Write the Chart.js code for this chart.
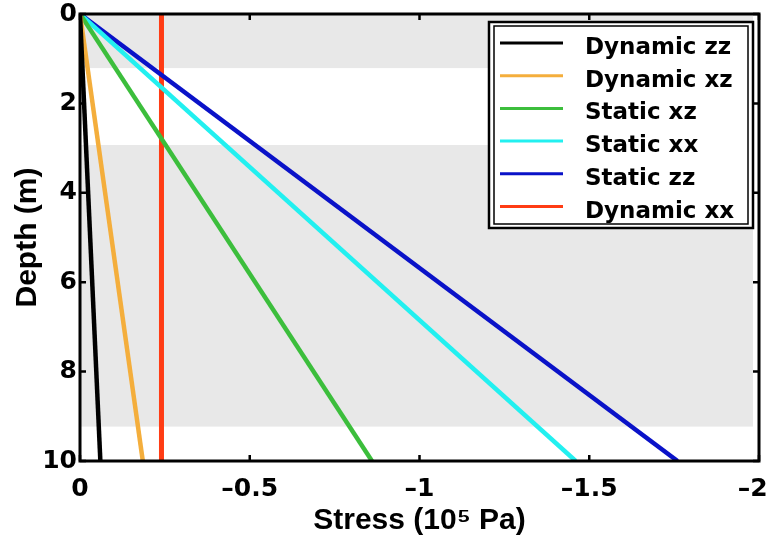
<!DOCTYPE html>
<html>
<head>
<meta charset="utf-8">
<script src="https://cdn.jsdelivr.net/npm/chart.js@4.4.1/dist/chart.umd.min.js"></script>
<style>
  html, body { margin: 0; padding: 0; background: #fff; }
  #wrap { width: 770px; height: 537px; }
</style>
</head>
<body>
<div id="wrap"><canvas id="stressChart" width="770" height="537"></canvas></div>
<script>
// depths (m) where each profile is given
const depth = [0, 10];

// stress (10^5 Pa) at those depths
const dynamicZz = [0, -0.06];
const dynamicXz = [0, -0.185];
const staticXz = [0, -0.86];
const staticXx = [0, -1.46];
const staticZz = [0, -1.76];
const dynamicXx = [-0.24, -0.24];

const seriesNames = ["Dynamic zz", "Dynamic xz", "Static xz", "Static xx", "Static zz", "Dynamic xx"];
const seriesValues = [dynamicZz, dynamicXz, staticXz, staticXx, staticZz, dynamicXx];
const seriesColors = ["#000000", "#f4ae3c", "#3cbe3c", "#22f0f0", "#0a12c8", "#ff3c14"];

// grey soil layers (depth ranges, m)
const layerTop = [0, 2.93];
const layerBottom = [1.21, 9.23];

const xTicks = [0, -0.5, -1, -1.5, -2];
const xTickLabels = ["0", "\u20130.5", "\u20131", "\u20131.5", "\u20132\u2002"];
const yTicks = [0, 2, 4, 6, 8, 10];
const yTickLabels = ["0", "2", "4", "6", "8", "10"];

const tickFont = { family: "'DejaVu Sans', sans-serif", size: 25, weight: "bold" };
const titleFont = { family: "'Liberation Sans', Arial, sans-serif", size: 30, weight: "bold", lineHeight: 1 };

function toPoints(values) {
  return values.map((v, i) => ({ x: v, y: depth[i] }));
}

// grey bands behind the lines
const layersPlugin = {
  id: "layers",
  beforeDatasetsDraw(chart) {
    const { ctx, chartArea, scales } = chart;
    ctx.save();
    ctx.fillStyle = "#e8e8e8";
    for (let i = 0; i < layerTop.length; i++) {
      const y1 = scales.y.getPixelForValue(layerTop[i]);
      const y2 = scales.y.getPixelForValue(layerBottom[i]);
      ctx.fillRect(chartArea.left, y1, chartArea.right - chartArea.left - 6, y2 - y1);
    }
    ctx.restore();
  }
};

// box frame with inward ticks on all sides
const framePlugin = {
  id: "frame",
  afterDatasetsDraw(chart) {
    const { ctx, chartArea, scales } = chart;
    const { left, right, top, bottom } = chartArea;
    ctx.save();
    ctx.strokeStyle = "#000";
    ctx.lineWidth = 2.5;
    ctx.beginPath();
    xTicks.forEach(v => {
      const x = scales.x.getPixelForValue(v);
      ctx.moveTo(x, bottom); ctx.lineTo(x, bottom - 6);
      ctx.moveTo(x, top); ctx.lineTo(x, top + 6);
    });
    yTicks.forEach(v => {
      const y = scales.y.getPixelForValue(v);
      ctx.moveTo(left, y); ctx.lineTo(left + 6, y);
      ctx.moveTo(right, y); ctx.lineTo(right - 6, y);
    });
    ctx.stroke();
    ctx.lineWidth = 3;
    ctx.strokeRect(left, top, right - left, bottom - top);
    ctx.restore();
  }
};

// legend box in the upper right corner
const legendPlugin = {
  id: "boxLegend",
  afterDraw(chart) {
    const { ctx } = chart;
    ctx.save();
    ctx.fillStyle = "#fff";
    ctx.fillRect(489, 22, 264, 206);
    ctx.strokeStyle = "#000";
    ctx.lineWidth = 2.5;
    ctx.strokeRect(489, 22, 264, 206);
    ctx.lineWidth = 1.5;
    ctx.strokeRect(494, 26, 254, 198);
    ctx.font = "bold 23px 'DejaVu Sans', sans-serif";
    ctx.textBaseline = "alphabetic";
    chart.data.datasets.forEach((ds, i) => {
      const y = 43 + i * 32.7;
      ctx.strokeStyle = ds.borderColor;
      ctx.lineWidth = 3;
      ctx.beginPath();
      ctx.moveTo(500, y);
      ctx.lineTo(563, y);
      ctx.stroke();
      ctx.fillStyle = "#000";
      ctx.fillText(ds.label, 585, y + 11);
    });
    ctx.restore();
  }
};

const datasets = seriesNames.map((name, i) => ({
  label: name,
  data: toPoints(seriesValues[i]),
  borderColor: seriesColors[i],
  backgroundColor: seriesColors[i],
  borderWidth: i === 5 ? 5 : 4.5,
  showLine: true,
  pointRadius: 0,
  fill: false
}));

new Chart(document.getElementById("stressChart"), {
  type: "scatter",
  data: { datasets: datasets },
  options: {
    responsive: false,
    devicePixelRatio: 1,
    animation: false,
    layout: { padding: { top: 14, right: 11, left: 0, bottom: 0 } },
    plugins: {
      legend: { display: false },
      tooltip: { enabled: false }
    },
    scales: {
      x: {
        type: "linear",
        position: "bottom",
        min: -2,
        max: 0,
        reverse: true,
        afterBuildTicks: axis => { axis.ticks = xTicks.map(v => ({ value: v })); },
        afterFit: axis => { axis.height = 76; axis.paddingLeft = 0; axis.paddingRight = 0; },
        ticks: {
          callback: (v, i) => xTickLabels[i],
          font: tickFont,
          color: "#000",
          padding: 13,
          maxRotation: 0,
          autoSkip: false
        },
        grid: { display: false, drawTicks: false },
        border: { display: false },
        title: {
          display: true,
          text: "Stress (10\u2075 Pa)",
          font: titleFont,
          color: "#000",
          padding: { top: 0, bottom: 1 }
        }
      },
      y: {
        type: "linear",
        min: 0,
        max: 10,
        reverse: true,
        afterBuildTicks: axis => { axis.ticks = yTicks.map(v => ({ value: v })); },
        afterFit: axis => { axis.width = 80; axis.paddingTop = 0; axis.paddingBottom = 0; },
        ticks: {
          callback: (v, i) => yTickLabels[i],
          font: tickFont,
          color: "#000",
          padding: 3,
          autoSkip: false
        },
        grid: { display: false, drawTicks: false },
        border: { display: false },
        title: {
          display: true,
          text: "Depth (m)",
          font: titleFont,
          color: "#000",
          padding: { top: 13, bottom: 0 }
        }
      }
    }
  },
  plugins: [layersPlugin, framePlugin, legendPlugin]
});
</script>
</body>
</html>
